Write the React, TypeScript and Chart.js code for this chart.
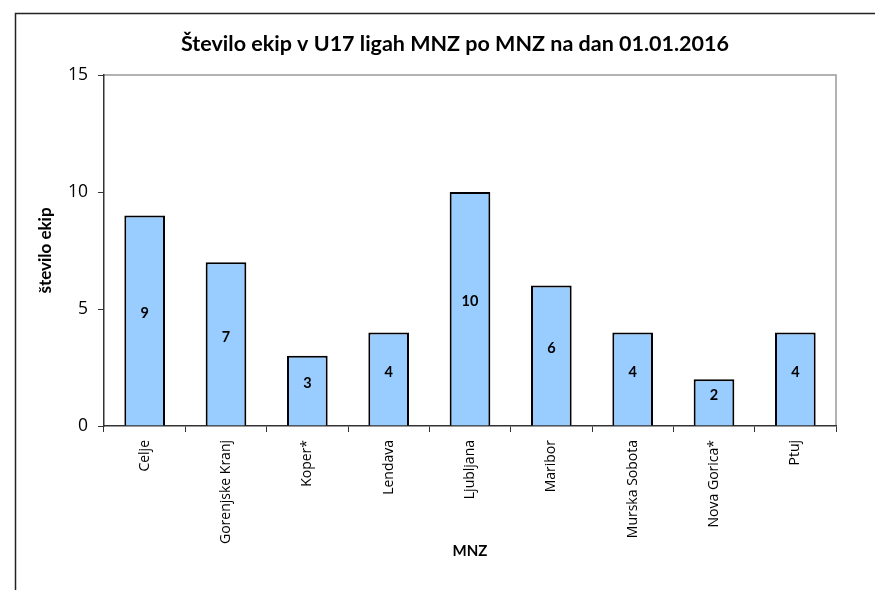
import React, { useEffect, useRef } from "react";
import { Chart, registerables } from "chart.js";

Chart.register(...registerables);

const categories = [
  "Celje",
  "Gorenjske Kranj",
  "Koper*",
  "Lendava",
  "Ljubljana",
  "Maribor",
  "Murska Sobota",
  "Nova Gorica*",
  "Ptuj",
];
const teams = [9, 7, 3, 4, 10, 6, 4, 2, 4];
const yTicks = [0, 5, 10, 15];

const titleText = "Število ekip v U17 ligah MNZ po MNZ na dan 01.01.2016";
const yTitle = "število ekip";
const xTitle = "MNZ";

const frame = {
  id: "frame",
  beforeDraw(chart: any) {
    const { ctx, chartArea } = chart;
    ctx.save();
    ctx.fillStyle = "#ffffff";
    ctx.fillRect(0, 0, chart.width, chart.height);
    ctx.strokeStyle = "#222";
    ctx.lineWidth = 1.5;
    ctx.beginPath();
    ctx.moveTo(15.5, chart.height);
    ctx.lineTo(15.5, 13.5);
    ctx.lineTo(chart.width, 13.5);
    ctx.stroke();
    ctx.strokeStyle = "#999";
    ctx.lineWidth = 1.5;
    ctx.beginPath();
    ctx.moveTo(chartArea.left, chartArea.top);
    ctx.lineTo(chartArea.right, chartArea.top);
    ctx.lineTo(chartArea.right, chartArea.bottom);
    ctx.stroke();
    ctx.fillStyle = "#000";
    ctx.font = "bold 21.5px Lato";
    ctx.textAlign = "center";
    ctx.textBaseline = "middle";
    ctx.fillText(titleText, 455, 44);
    ctx.restore();
  },
  afterDatasetsDraw(chart: any) {
    const { ctx } = chart;
    const meta = chart.getDatasetMeta(0);
    ctx.save();
    ctx.fillStyle = "#000";
    ctx.font = "bold 14.5px Lato";
    ctx.textAlign = "center";
    ctx.textBaseline = "middle";
    meta.data.forEach((bar: any, i: number) => {
      const y = (bar.y + bar.base) / 2 - 7;
      ctx.fillText(String(teams[i]), bar.x, y);
    });
    ctx.restore();
  },
};

export default function App() {
  const ref = useRef<HTMLCanvasElement>(null);
  useEffect(() => {
    if (!ref.current) return;
    const chart = new Chart(ref.current, {
      type: "bar",
      data: {
        labels: categories,
        datasets: [
          {
            data: teams,
            backgroundColor: "#99CCFF",
            borderColor: "#000000",
            borderWidth: 2,
            barPercentage: 0.5,
            categoryPercentage: 1,
          },
        ],
      },
      options: {
        responsive: false,
        animation: false,
        layout: { padding: { left: 0, right: 39, top: 75, bottom: 0 } },
        plugins: {
          legend: { display: false },
          tooltip: { enabled: false },
          title: { display: false },
        },
        scales: {
          x: {
            grid: {
              drawOnChartArea: false,
              drawTicks: true,
              tickLength: 6,
              color: "#333",
              lineWidth: 1,
            },
            border: { display: true, color: "#333", width: 1.5 },
            ticks: {
              autoSkip: false,
              minRotation: 90,
              maxRotation: 90,
              padding: 8,
              color: "#000",
              font: { family: "Open Sans", size: 14 },
            },
            title: {
              display: true,
              text: xTitle,
              color: "#000",
              font: { family: "Lato", size: 15, weight: "bold" },
              padding: { top: 0, bottom: 30 },
            },
            afterFit(scale: any) {
              scale.height = 164;
            },
          },
          y: {
            min: 0,
            max: 15,
            afterBuildTicks(scale: any) {
              scale.ticks = yTicks.map((v) => ({ value: v }));
            },
            grid: {
              drawOnChartArea: false,
              drawTicks: true,
              tickLength: 6,
              color: "#333",
            },
            border: { display: true, color: "#333", width: 1.5 },
            ticks: {
              padding: 10,
              color: "#000",
              font: { family: "Open Sans", size: 17.5 },
            },
            title: {
              display: true,
              text: yTitle,
              color: "#000",
              font: { family: "Lato", size: 17, weight: "bold" },
              padding: { top: 35, bottom: 0 },
            },
            afterFit(scale: any) {
              scale.width = 104;
            },
          },
        },
      },
      plugins: [frame],
    });
    return () => chart.destroy();
  }, []);
  return (
    <div style={{ position: "absolute", left: 0, top: 0, width: 875, height: 590 }}>
      <canvas ref={ref} width={875} height={590} />
    </div>
  );
}
